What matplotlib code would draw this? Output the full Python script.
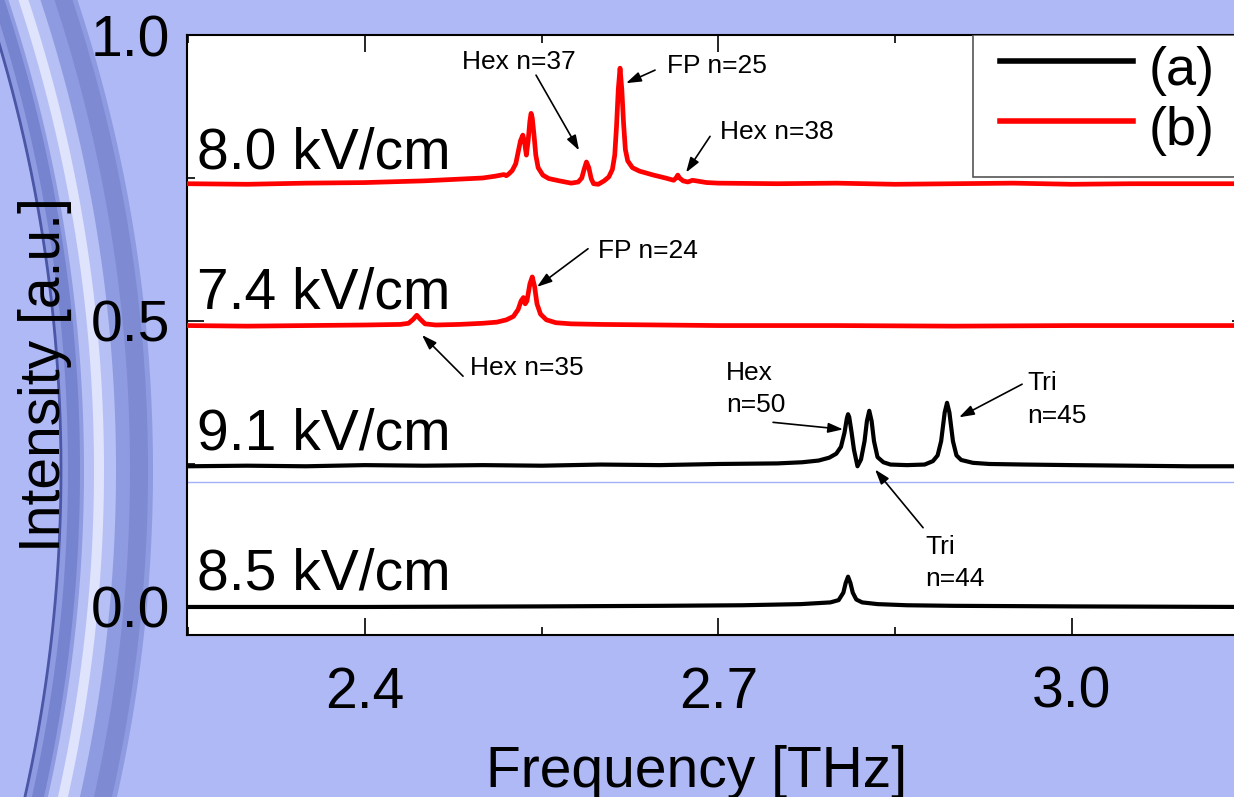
import numpy as np
import matplotlib
matplotlib.use('Agg')
import matplotlib.pyplot as plt
from matplotlib.patches import Rectangle

plt.rcParams['font.family'] = ['Liberation Sans', 'DejaVu Sans']

# curve (a) 8.5 kV/cm
f_85 = [2.25, 2.40, 2.55, 2.65, 2.72, 2.77, 2.795, 2.802, 2.806, 2.808, 2.810, 2.812,
        2.814, 2.817, 2.822, 2.835, 2.86, 2.90, 3.00, 3.15]
i_85 = [0.000, 0.000, 0.001, 0.002, 0.003, 0.005, 0.008, 0.012, 0.025, 0.042, 0.053, 0.042,
        0.025, 0.013, 0.008, 0.005, 0.003, 0.002, 0.001, 0.000]

# curve (a) 9.1 kV/cm
f_91 = [2.25, 2.30, 2.35, 2.40, 2.45, 2.50, 2.55, 2.60, 2.65, 2.70, 2.75, 2.771, 2.785,
        2.794, 2.800, 2.804, 2.807, 2.809, 2.810, 2.811, 2.813, 2.815, 2.818, 2.821, 2.824,
        2.826, 2.828, 2.830, 2.832, 2.835, 2.840, 2.846, 2.860, 2.875, 2.882, 2.886, 2.889,
        2.892, 2.894, 2.896, 2.899, 2.902, 2.906, 2.916, 2.93, 2.96, 3.00, 3.05, 3.10, 3.15]
i_91 = [0.246, 0.247, 0.246, 0.248, 0.247, 0.248, 0.247, 0.249, 0.248, 0.250, 0.251, 0.253, 0.256,
        0.261, 0.268, 0.280, 0.305, 0.330, 0.337, 0.332, 0.305, 0.275, 0.246, 0.258, 0.290,
        0.325, 0.343, 0.325, 0.290, 0.262, 0.253, 0.249, 0.248, 0.249, 0.255, 0.265, 0.290,
        0.340, 0.357, 0.340, 0.290, 0.265, 0.257, 0.252, 0.250, 0.249, 0.248, 0.247, 0.246, 0.246]

# curve (b) 7.4 kV/cm
f_74 = [2.25, 2.30, 2.35, 2.40, 2.43, 2.437, 2.441, 2.444, 2.447, 2.451, 2.46, 2.48, 2.50,
        2.512, 2.520, 2.526, 2.530, 2.5325, 2.5345, 2.536, 2.5375, 2.540, 2.542, 2.544, 2.546,
        2.549, 2.554, 2.562, 2.575, 2.60, 2.65, 2.70, 2.80, 2.90, 3.00, 3.15]
i_74 = [0.492, 0.491, 0.492, 0.493, 0.494, 0.496, 0.503, 0.510, 0.503, 0.495, 0.493, 0.494, 0.496,
        0.498, 0.502, 0.508, 0.520, 0.535, 0.541, 0.530, 0.535, 0.565, 0.577, 0.560, 0.530,
        0.512, 0.502, 0.497, 0.495, 0.494, 0.493, 0.492, 0.492, 0.491, 0.492, 0.492]

# curve (b) 8.0 kV/cm
f_80 = [2.25, 2.30, 2.35, 2.40, 2.45, 2.48, 2.50, 2.510, 2.518, 2.520, 2.522, 2.525, 2.528,
        2.530, 2.532, 2.534, 2.5355, 2.537, 2.5385, 2.540, 2.541, 2.542, 2.5435, 2.545, 2.547,
        2.551, 2.556, 2.565, 2.575, 2.581, 2.584, 2.586, 2.588, 2.590, 2.592, 2.594, 2.598,
        2.603, 2.607, 2.610, 2.612, 2.6135, 2.615, 2.6165, 2.618, 2.6195, 2.621, 2.623, 2.627,
        2.633, 2.645, 2.655, 2.662, 2.664, 2.6655, 2.667, 2.670, 2.674, 2.678, 2.681, 2.690,
        2.70, 2.75, 2.80, 2.85, 2.90, 2.95, 3.00, 3.05, 3.10, 3.15]
i_80 = [0.740, 0.739, 0.741, 0.742, 0.745, 0.748, 0.750, 0.753, 0.756, 0.754, 0.757, 0.763, 0.775,
        0.795, 0.815, 0.825, 0.812, 0.790, 0.815, 0.850, 0.863, 0.855, 0.825, 0.790, 0.768,
        0.755, 0.749, 0.745, 0.741, 0.743, 0.750, 0.765, 0.778, 0.768, 0.749, 0.740, 0.739,
        0.745, 0.752, 0.765, 0.790, 0.840, 0.905, 0.942, 0.905, 0.845, 0.800, 0.780, 0.768,
        0.762, 0.755, 0.750, 0.746, 0.750, 0.755, 0.750, 0.745, 0.743, 0.746, 0.745, 0.742,
        0.741, 0.740, 0.741, 0.739, 0.740, 0.741, 0.739, 0.740, 0.740, 0.740]

field_labels = ['8.0 kV/cm', '7.4 kV/cm', '9.1 kV/cm', '8.5 kV/cm']
label_y = [0.767, 0.521, 0.275, 0.030]
legend_labels = ['(a)', '(b)']

bgcol = '#aeb9f5'
fig = plt.figure(figsize=(12.34, 7.97), dpi=100, facecolor=bgcol)

# background decoration (curved band on the left)
bg = fig.add_axes([0, 0, 1, 1], zorder=-5)
bg.set_xlim(0, 1234)
bg.set_ylim(797, 0)
bg.axis('off')
yy = np.linspace(-10, 810, 200)
R = 1500.0
xc = 108 - R + np.sqrt(R ** 2 - (yy - 470) ** 2)
bg.fill_betweenx(yy, xc - 48, xc + 45, color='#8e9be0', lw=0)
bg.fill_betweenx(yy, xc - 40, xc - 28, color='#7683cf', lw=0)
bg.fill_betweenx(yy, xc - 24, xc + 8, color='#b7c0f4', lw=0)
bg.fill_betweenx(yy, xc - 14, xc - 4, color='#dfe3fc', lw=0)
bg.fill_betweenx(yy, xc + 22, xc + 40, color='#7e8bd3', lw=0)
bg.plot(xc - 47, yy, color='#4b57a6', lw=2)

ax = fig.add_axes([187 / 1234, 1 - 635 / 797, 1061.7 / 1234, 600 / 797])
ax.set_facecolor('white')

ax.axhline(0.219, color='#a3b0f5', lw=1, zorder=1)

ax.plot(f_85, i_85, color='black', lw=3, label=legend_labels[0], zorder=3)
ax.plot(f_91, i_91, color='black', lw=3, zorder=3)
ax.plot(f_74, i_74, color='red', lw=3.4, label=legend_labels[1], zorder=3)
ax.plot(f_80, i_80, color='red', lw=3.4, zorder=3)

ax.set_xlim(2.249, 3.15)
ax.set_ylim(-0.049, 1.0)
ax.set_xticks([2.4, 2.7, 3.0])
ax.set_xticklabels(['2.4', '2.7', '3.0'])
ax.set_xticks([2.25, 2.55, 2.85], minor=True)
ax.set_yticks([0.0, 0.5, 1.0])
ax.set_yticklabels(['0.0', '0.5', '1.0'])
ax.set_yticks([0.25, 0.75], minor=True)
ax.tick_params(which='both', direction='in', top=True, right=True, width=1.2)
ax.tick_params(which='major', length=12, labelsize=41)
ax.tick_params(axis='x', which='major', pad=22)
ax.tick_params(axis='y', which='major', pad=12)
ax.tick_params(which='minor', length=6)
for s in ax.spines.values():
    s.set_linewidth(1.5)

for txt, y in zip(field_labels, label_y):
    ax.text(2.2575, y, txt, fontsize=41, va='baseline', ha='left', zorder=4)

arrow = dict(arrowstyle='-|>,head_length=0.9,head_width=0.3', color='black', lw=1.2,
             shrinkA=0, shrinkB=0)
fs = 19

def px(x, y):
    # reference pixel position -> data coords
    return (2.249 + (x - 187) * 0.9011 / 1061.7, (607 - y) / 570)

notes = [
    ('Hex n=37', (462, 64), (536, 77), (579, 152)),
    ('FP n=25', (667, 68), (655, 72), (626, 85)),
    ('Hex n=38', (720, 134), (710, 138), (686, 174)),
    ('FP n=24', (598, 252), (588, 250), (537, 288)),
    ('Hex n=35', (470, 369), (463, 377), (422, 336)),
    ('Hex\nn=50', (726, 390), (773, 423), (843, 430)),
    ('Tri\nn=45', (1027, 400), (1022, 385), (959, 418)),
    ('Tri\nn=44', (925, 563), (923, 528), (875, 470)),
]
for txt, tpos, a0, a1 in notes:
    ax.text(*px(*tpos), txt, fontsize=fs, ha='left', va='center', linespacing=1.45, zorder=5)
    ax.annotate('', xy=px(*a1), xytext=px(*a0), arrowprops=arrow, zorder=5)

# legend box, its right side runs off the picture
box = Rectangle((973 / 1234, 1 - 177 / 797), 300 / 1234, 142 / 797, transform=fig.transFigure,
                facecolor='white', edgecolor='#555555', lw=1.2, zorder=6)
ax.add_artist(box)
leg = ax.legend(loc='upper left', bbox_to_anchor=(1000 / 1234, 1 - 37 / 797),
                bbox_transform=fig.transFigure, fontsize=39, frameon=False,
                handlelength=2.45, handletextpad=0.3, handleheight=1.3,
                labelspacing=0.02, borderpad=0, borderaxespad=0)
leg.set_zorder(7)
for ln in leg.get_lines():
    ln.set_linewidth(4)

fig.text(45 / 1234, 1 - 374 / 797, 'Intensity [a.u.]', fontsize=41, rotation=90,
         ha='center', va='center')
fig.text(697 / 1234, 1 - 787 / 797, 'Frequency [THz]', fontsize=41, ha='center',
         va='baseline')

fig.savefig('out.png', dpi=100, facecolor=bgcol)
